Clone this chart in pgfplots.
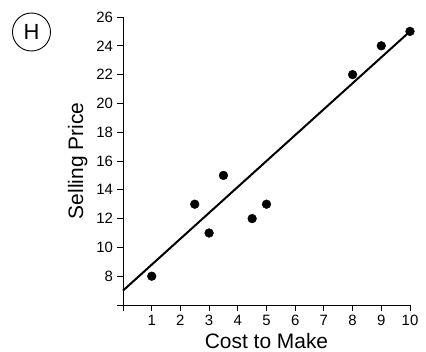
\documentclass[border=0pt]{standalone}
\usepackage{pgfplots}
\pgfplotsset{compat=1.18}
\usepackage{fontspec}
\setmainfont{Liberation Sans}
\begin{document}
\begin{tikzpicture}[x=1bp,y=1bp]
\useasboundingbox (0,0) rectangle (426,352);
\node[draw, circle, line width=0.9bp, minimum size=38bp, inner sep=0pt, font=\fontsize{22}{24}\selectfont] at (31.5,320) {H};
\begin{axis}[
  at={(123bp,47bp)}, anchor=south west,
  scale only axis, width=287bp, height=288bp,
  xmin=0, xmax=10, ymin=6, ymax=26,
  axis lines=left, axis line style={-, line width=0.9bp},
  xtick={0,1,...,10}, xticklabels={,1,2,3,4,5,6,7,8,9,10},
  ytick={6,8,...,26}, yticklabels={,8,10,12,14,16,18,20,22,24,26},
  tick align=outside, major tick length=6bp,
  tick style={line width=0.9bp, black},
  ticklabel style={font=\fontsize{15}{17}\selectfont},
  xticklabel style={yshift=-1bp},
  yticklabel style={xshift=-0.5bp},
  /pgf/number format/assume math mode=true,
  xlabel={Cost to Make}, ylabel={Selling Price},
  label style={font=\fontsize{21}{24}\selectfont},
  xlabel style={at={(axis description cs:0.5,0)}, anchor=north, yshift=-25bp},
  ylabel style={at={(axis description cs:0,0.5)}, anchor=south, rotate=0, xshift=0bp, yshift=32bp},
  clip=false,
]
\addplot[only marks, mark=*, mark size=4.4bp, black] coordinates {
(1,8) (2.5,13) (3,11) (3.5,15) (4.5,12) (5,13) (8,22) (9,24) (10,25)};
\addplot[black, line width=2bp] coordinates {(0,7) (10,25)};
\end{axis}
\end{tikzpicture}
\end{document}
